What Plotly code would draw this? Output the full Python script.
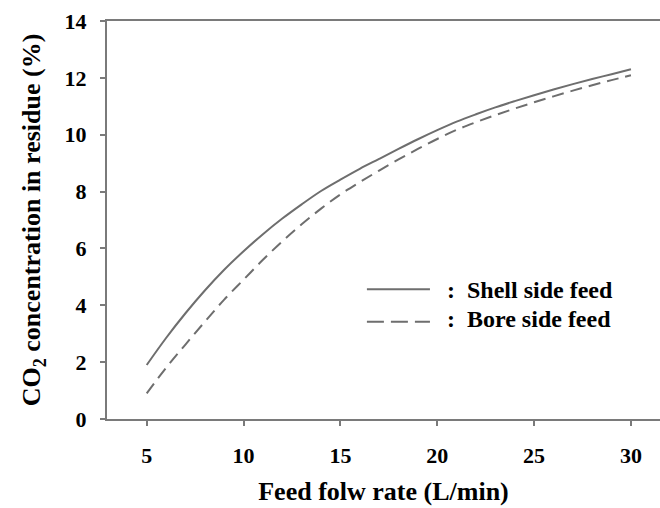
import plotly.graph_objects as go

flow = [5, 6, 7, 8, 9, 10, 11, 12, 13, 14, 15, 16, 17, 18, 19, 20, 21, 22, 23, 24, 25, 26, 27, 28, 29, 30]
shell = [1.9, 2.85, 3.72, 4.52, 5.25, 5.9, 6.5, 7.05, 7.55, 8.02, 8.42, 8.8, 9.15, 9.5, 9.84, 10.16,
         10.46, 10.72, 10.96, 11.18, 11.39, 11.59, 11.78, 11.96, 12.13, 12.3]
bore = [0.9, 1.8, 2.62, 3.42, 4.2, 4.9, 5.6, 6.25, 6.85, 7.4, 7.9, 8.33, 8.74, 9.13, 9.5, 9.85,
        10.17, 10.44, 10.69, 10.92, 11.14, 11.35, 11.55, 11.74, 11.92, 12.09]
x_ticks = [5, 10, 15, 20, 25, 30]
y_ticks = [0, 2, 4, 6, 8, 10, 12, 14]
legend_names = ["Shell side feed", "Bore side feed"]

FONT = "Liberation Serif"
LINE = "#6e6e6e"
AX = "#7a7a7a"

fig = go.Figure()
fig.add_trace(go.Scatter(x=flow, y=shell, mode="lines", line=dict(color=LINE, width=2, shape="spline"),
                         showlegend=False))
fig.add_trace(go.Scatter(x=flow, y=bore, mode="lines",
                         line=dict(color=LINE, width=2, shape="spline", dash="12px,7px"),
                         showlegend=False))

# legend drawn manually
line_y = [0.326, 0.2445]
text_y = [0.324, 0.252]
dashes = [None, "17px,7px"]
for i, name in enumerate(legend_names):
    fig.add_shape(type="line", xref="paper", yref="paper", x0=0.470, x1=0.584, y0=line_y[i], y1=line_y[i],
                  line=dict(color=LINE, width=2, dash=dashes[i]))
    fig.add_annotation(xref="paper", yref="paper", x=0.611, y=text_y[i], xanchor="left", yanchor="middle",
                       text=":  " + name, showarrow=False,
                       font=dict(family=FONT, size=24, color="black", weight="bold"))

fig.update_layout(
    width=660, height=508,
    margin=dict(l=107, r=0, t=21, b=89),
    paper_bgcolor="white", plot_bgcolor="white",
    font=dict(family=FONT, color="black"),
    xaxis=dict(range=[2.95, 31.5], tickvals=x_ticks, showgrid=False, zeroline=False,
               showline=True, linecolor=AX, linewidth=2, mirror=True,
               ticks="outside", ticklen=5, tickwidth=2, tickcolor=AX,
               tickfont=dict(family=FONT, size=22, weight="bold"),
               ticklabelstandoff=11,
               title=dict(text="Feed folw rate (L/min)", font=dict(family=FONT, size=26, weight="bold"),
                          standoff=14)),
    yaxis=dict(range=[0, 14], tickvals=y_ticks, showgrid=False, zeroline=False,
               showline=True, linecolor=AX, linewidth=2,
               ticks="outside", ticklen=5, tickwidth=2, tickcolor=AX,
               tickfont=dict(family=FONT, size=22, weight="bold"),
               ticklabelstandoff=9,
               title=dict(text="CO<sub>2</sub> concentration in residue (%)",
                          font=dict(family=FONT, size=26, weight="bold"), standoff=16)),
)

fig.write_html("out.html")
